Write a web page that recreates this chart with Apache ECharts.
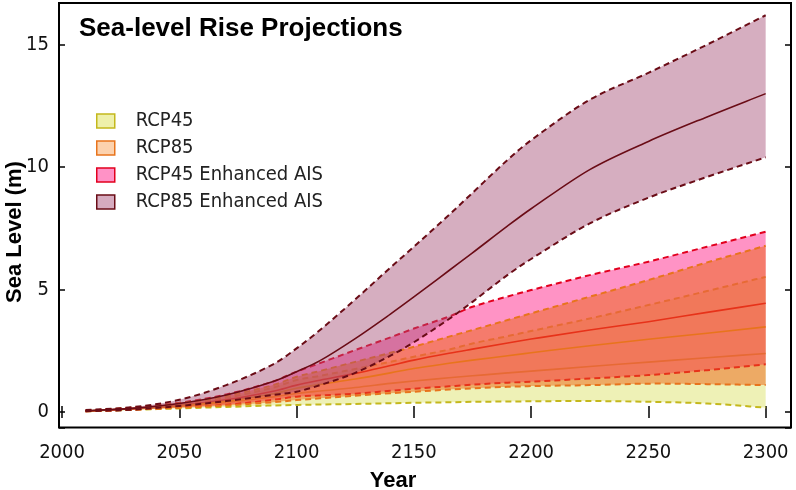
<!DOCTYPE html>
<html><head><meta charset="utf-8">
<script src="https://cdn.jsdelivr.net/npm/echarts@6/dist/echarts.min.js"></script>
<style>html,body{margin:0;padding:0;background:#fff}#c{width:796px;height:490px}</style>
</head><body><div id="c"></div>
<script>
// ---- data ----
const years = [2010, 2030, 2050, 2070, 2090, 2100, 2110, 2125, 2140, 2150, 2165, 2175, 2190, 2200, 2225, 2250, 2275, 2300];

const rcp45Lower  = [0.03,0.09,0.15,0.21,0.27,0.29,0.31,0.33,0.36,0.38,0.40,0.42,0.43,0.44,0.45,0.42,0.35,0.18];
const rcp45Median = [0.04,0.13,0.24,0.39,0.62,0.76,0.86,1.00,1.17,1.27,1.40,1.48,1.60,1.67,1.86,2.04,2.22,2.39];
const rcp45Upper  = [0.05,0.17,0.33,0.58,1.00,1.31,1.48,1.76,2.05,2.26,2.55,2.80,3.10,3.31,3.82,4.37,4.94,5.52];

const rcp85Lower  = [0.03,0.10,0.18,0.27,0.40,0.49,0.56,0.67,0.77,0.83,0.92,0.97,1.03,1.06,1.10,1.16,1.14,1.10];
const rcp85Median = [0.04,0.14,0.27,0.45,0.75,0.97,1.13,1.35,1.60,1.78,1.99,2.12,2.30,2.42,2.71,2.97,3.22,3.48];
const rcp85Upper  = [0.05,0.18,0.36,0.66,1.10,1.44,1.68,2.05,2.42,2.67,3.08,3.35,3.76,4.03,4.71,5.39,6.11,6.79];

const rcp45AisLower  = [0.03,0.10,0.20,0.30,0.50,0.63,0.68,0.75,0.87,0.95,1.05,1.12,1.20,1.24,1.37,1.51,1.71,1.95];
const rcp45AisMedian = [0.04,0.14,0.28,0.50,0.85,1.10,1.30,1.58,1.90,2.12,2.40,2.57,2.82,2.98,3.35,3.69,4.07,4.44];
const rcp45AisUpper  = [0.05,0.18,0.38,0.72,1.25,1.65,2.00,2.53,3.05,3.41,3.90,4.30,4.72,4.98,5.59,6.14,6.75,7.36];

const rcp85AisLower  = [0.03,0.10,0.25,0.45,0.70,0.83,1.10,1.60,2.30,2.85,3.80,4.50,5.60,6.25,7.70,8.75,9.60,10.40];
const rcp85AisMedian = [0.05,0.15,0.35,0.70,1.25,1.65,2.10,3.00,4.00,4.70,5.78,6.50,7.60,8.30,9.90,11.05,12.05,13.00];
const rcp85AisUpper  = [0.08,0.20,0.50,1.10,1.95,2.60,3.35,4.60,5.90,6.75,8.05,8.95,10.30,11.10,12.75,13.85,15.00,16.20];

const legendNames = ['RCP45', 'RCP85', 'RCP45 Enhanced AIS', 'RCP85 Enhanced AIS'];
const titleText = 'Sea-level Rise Projections';
const xName = 'Year';
const yName = 'Sea Level (m)';

// ---- styling ----
const NARROW = "'Liberation Sans Narrow','Arial Narrow','DejaVu Sans Condensed',Roboto,sans-serif";
const SANS = "'Liberation Sans',Arial,Helvetica,sans-serif";

const styles = {
  'RCP45':              {fill:'rgba(215,222,80,0.42)', line:'#c4b81c', legendFill:'#eef0aa'},
  'RCP85':              {fill:'rgba(235,100,20,0.5)',  line:'#e8741c', legendFill:'#fcd2ae'},
  'RCP45 Enhanced AIS': {fill:'rgba(255,40,140,0.5)',  line:'#e2001e', legendFill:'#ff92c6'},
  'RCP85 Enhanced AIS': {fill:'rgba(165,75,115,0.45)', line:'#6a0c16', legendFill:'#d6abbf'}
};

// smooth cubic (Hermite, finite-difference tangents) through pixel points
function segs(pts){
  const n = pts.length, m = [];
  for (let i = 0; i < n; i++){
    const a = pts[Math.max(0, i-1)], b = pts[Math.min(n-1, i+1)];
    m[i] = (b[1]-a[1]) / (b[0]-a[0]);
  }
  const out = [];
  for (let i = 0; i < n-1; i++){
    const h = pts[i+1][0] - pts[i][0];
    out.push([[pts[i][0]+h/3, pts[i][1]+m[i]*h/3], [pts[i+1][0]-h/3, pts[i+1][1]-m[i+1]*h/3], pts[i+1]]);
  }
  return out;
}
const pt = p => p[0].toFixed(2) + ',' + p[1].toFixed(2);
function curvePath(pts){
  let d = 'M' + pt(pts[0]);
  segs(pts).forEach(s => { d += ' C' + pt(s[0]) + ' ' + pt(s[1]) + ' ' + pt(s[2]); });
  return d;
}
function bandPath(up, lo){
  let d = curvePath(up);
  d += ' L' + pt(lo[lo.length-1]);
  const s = segs(lo);
  for (let i = s.length-1; i >= 0; i--){
    const start = i === 0 ? lo[0] : s[i-1][2];
    d += ' C' + pt(s[i][1]) + ' ' + pt(s[i][0]) + ' ' + pt(start);
  }
  return d + ' Z';
}

function band(key, lower, median, upper){
  const st = styles[key];
  return {
    type:'custom', coordinateSystem:'cartesian2d', silent:true, clip:true,
    data:[[years[0], lower[0]]],
    renderItem:(params, api) => {
      const P = arr => years.map((y,i) => api.coord([y, arr[i]]));
      const up = P(upper), lo = P(lower), md = P(median);
      return {type:'group', children:[
        {type:'path', shape:{pathData:bandPath(up, lo)}, style:{fill:st.fill, stroke:null}},
        {type:'path', shape:{pathData:curvePath(lo)}, style:{fill:null, stroke:st.line, lineWidth:2, lineDash:[6,4]}},
        {type:'path', shape:{pathData:curvePath(up)}, style:{fill:null, stroke:st.line, lineWidth:2, lineDash:[6,4]}},
        {type:'path', shape:{pathData:curvePath(md)}, style:{fill:null, stroke:st.line, lineWidth:1.6}}
      ]};
    }
  };
}

const series = [
  band('RCP45', rcp45Lower, rcp45Median, rcp45Upper),
  band('RCP45 Enhanced AIS', rcp45AisLower, rcp45AisMedian, rcp45AisUpper),
  band('RCP85', rcp85Lower, rcp85Median, rcp85Upper),
  band('RCP85 Enhanced AIS', rcp85AisLower, rcp85AisMedian, rcp85AisUpper)
].concat(legendNames.map(n => ({type:'line', name:n, data:[], symbol:'none',
     itemStyle:{color:styles[n].legendFill, borderColor:styles[n].line, borderWidth:1.5}})));

const tickStyle = {inside:true, length:6, lineStyle:{color:'#000', width:1.5}};
const xBase = {type:'value', min:1998.7, max:2310.8, minInterval:50, maxInterval:50,
  axisLine:{show:false}, splitLine:{show:false}, axisTick:tickStyle};
const yBase = {type:'value', min:-0.63, max:16.7, minInterval:5, maxInterval:5,
  axisLine:{show:false}, splitLine:{show:false}, axisTick:tickStyle};

const option = {
  animation:false,
  backgroundColor:'#fff',
  grid:{left:59, right:5, top:3, bottom:62.5, show:true, borderColor:'#000', borderWidth:2, backgroundColor:'transparent'},
  xAxis:[
    Object.assign({}, xBase, {position:'bottom', axisLabel:{margin:15, fontSize:20, color:'#111', fontFamily:NARROW,
      formatter: v => (Math.abs(v % 50) < 1e-6 ? String(v) : '')}}),
    Object.assign({}, xBase, {position:'top', axisLabel:{show:false}})
  ],
  yAxis:[
    Object.assign({}, yBase, {position:'left', axisLabel:{margin:10, fontSize:20, color:'#111', fontFamily:NARROW,
      formatter: v => (Math.abs(v % 5) < 1e-6 ? String(v) : '')}}),
    Object.assign({}, yBase, {position:'right', axisLabel:{show:false}})
  ],
  legend:{left:96, top:110, padding:0, orient:'vertical', itemWidth:18, itemHeight:14, itemGap:5, icon:'rect',
    selectedMode:false,
    textStyle:{fontSize:20, lineHeight:22, color:'#222', fontFamily:NARROW, padding:[0,0,0,16]},
    data: legendNames.map(n => ({name:n, itemStyle:{color:styles[n].legendFill, borderColor:styles[n].line, borderWidth:1.5}}))
  },
  graphic:[
    {type:'text', x:79, y:28.5, style:{text:titleText, font:'bold 26px ' + SANS, fill:'#000', verticalAlign:'middle', align:'left'}},
    {type:'text', x:393, y:481, style:{text:xName, font:'bold 22px ' + SANS, fill:'#000', verticalAlign:'middle', align:'center'}},
    {type:'text', x:15, y:232, rotation:Math.PI/2, style:{text:yName, font:'bold 22px ' + SANS, fill:'#000', verticalAlign:'middle', align:'center'}}
  ],
  series: series
};

const chart = echarts.init(document.getElementById('c'), null, {renderer:'canvas'});
chart.setOption(option);
</script></body></html>
